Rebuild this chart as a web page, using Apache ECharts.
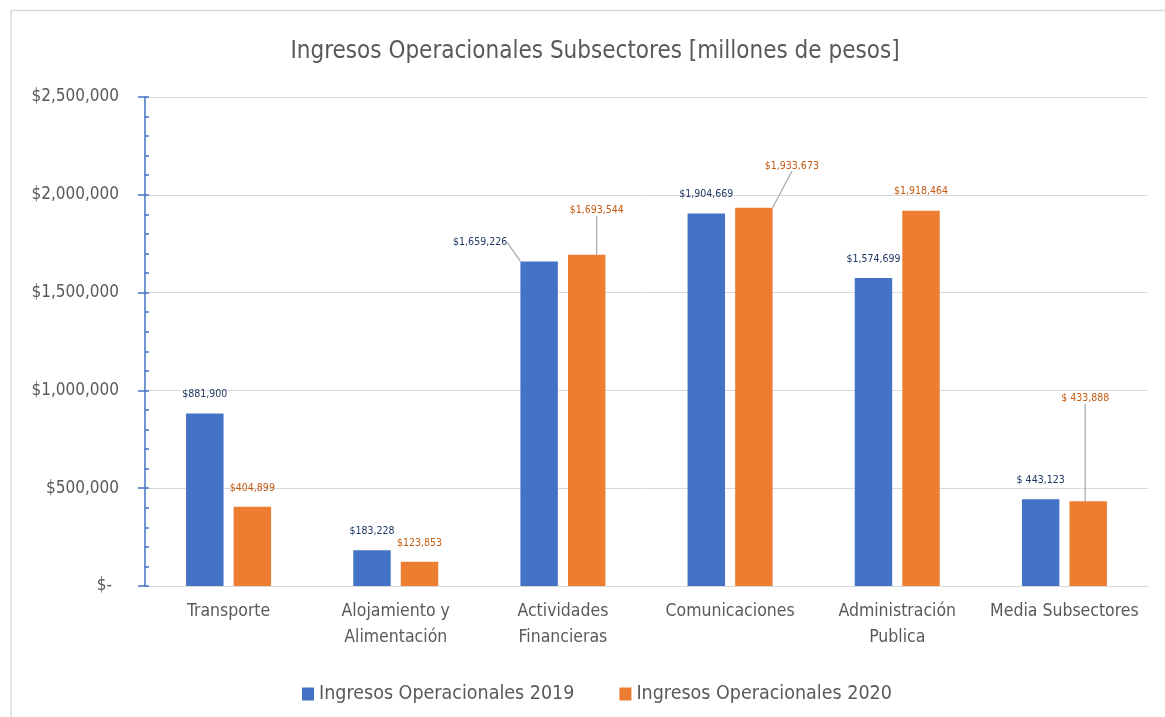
<!DOCTYPE html>
<html>
<head>
<meta charset="utf-8">
<script src="https://cdn.jsdelivr.net/npm/echarts@6/dist/echarts.min.js"></script>
<style>
html,body{margin:0;padding:0;background:#fff;}
#c{width:1165px;height:717px;}
</style>
</head>
<body>
<div id="c"></div>
<script>
const categories = ['Transporte', 'Alojamiento y\nAlimentación', 'Actividades\nFinancieras', 'Comunicaciones', 'Administración\nPublica', 'Media Subsectores'];
const values2019 = [881900, 183228, 1659226, 1904669, 1574699, 443123];
const values2020 = [404899, 123853, 1693544, 1933673, 1918464, 433888];
const seriesNames = ['Ingresos Operacionales 2019', 'Ingresos Operacionales 2020'];
const yTicks = [0, 500000, 1000000, 1500000, 2000000, 2500000];

const NARROW = "'DejaVu Sans Condensed', 'Liberation Sans', sans-serif";

// label displacement (dx, dy) for labels with leader lines
const labelMoves = [
  {2: [-59, 0]},
  {2: [10, -25], 3: [38, -23], 5: [-3, -84]}
];

function fmtMoney(v, name) {
  const sep = name === 'Media Subsectores' ? '$ ' : '$';
  return sep + v.toLocaleString('en-US');
}

function buildData(vals, s) {
  return vals.map((v, i) => ({
    value: v,
    labelLine: { show: labelMoves[s][i] !== undefined }
  }));
}

const colors = ['#4472C4', '#ED7D31'];
const labelColors = ['#203864', '#C55A11'];

const chart = echarts.init(document.getElementById('c'), null, { renderer: 'canvas' });

const option = {
  animation: false,
  backgroundColor: '#fff',
  graphic: [{
    type: 'rect',
    shape: { x: 11, y: 10.5, width: 1400, height: 1000 },
    style: { fill: 'none', stroke: '#D9D9D9', lineWidth: 1.5 },
    silent: true,
    z: -10
  }],
  title: {
    text: 'Ingresos Operacionales Subsectores [millones de pesos]',
    left: 590,
    textAlign: 'center',
    top: 35,
    textStyle: { fontFamily: NARROW, fontSize: 24, fontWeight: 'normal', color: '#595959' }
  },
  legend: {
    data: seriesNames,
    left: 297,
    top: 679,
    itemWidth: 12,
    itemHeight: 13,
    itemGap: 45,
    icon: 'rect',
    textStyle: { fontFamily: NARROW, fontSize: 19.5, color: '#595959' }
  },
  grid: { left: 145, right: 17, top: 97, bottom: 131, containLabel: false },
  xAxis: {
    type: 'category',
    data: categories,
    axisLine: { show: true, lineStyle: { color: '#D9D9D9', width: 1 } },
    axisTick: { show: false },
    axisLabel: {
      interval: 0, margin: 12, color: '#595959',
      fontFamily: NARROW, fontSize: 17.5, lineHeight: 26
    }
  },
  yAxis: [{
    type: 'value',
    min: 0, max: 2500000, interval: 500000,
    axisLine: { show: true, lineStyle: { color: '#4472C4', width: 1.5 } },
    axisTick: { show: true, inside: true, length: 4, lineStyle: { color: '#4472C4', width: 1.5 } },
    minorTick: { show: true, splitNumber: 5, length: 4, lineStyle: { color: '#4472C4', width: 1.5 } },
    splitLine: { show: true, lineStyle: { color: '#D9D9D9', width: 1 } },
    axisLabel: {
      margin: 26, color: '#595959', fontFamily: NARROW, fontSize: 17,
      formatter: v => v === 0 ? '{z|$-}' : '$' + v.toLocaleString('en-US'),
      rich: { z: { fontFamily: NARROW, fontSize: 17, color: '#595959', padding: [0, 7, 0, 0] } }
    }
  }, {
    type: 'value',
    position: 'left',
    min: 0, max: 2500000, interval: 500000,
    axisLine: { show: false },
    axisTick: { show: true, inside: false, length: 7, lineStyle: { color: '#4472C4', width: 1.5 } },
    splitLine: { show: false },
    axisLabel: { show: false }
  }],
  series: [values2019, values2020].map((vals, s) => ({
    name: seriesNames[s],
    type: 'bar',
    yAxisIndex: 0,
    data: buildData(vals, s),
    barWidth: '22.4%',
    barGap: '27%',
    itemStyle: { color: colors[s] },
    label: {
      show: true,
      position: 'top',
      distance: 13.5,
      fontFamily: NARROW,
      fontSize: 10.5,
      color: labelColors[s],
      formatter: p => fmtMoney(p.value, p.name)
    },
    labelLine: { show: false, smooth: false, lineStyle: { color: '#A6A6A6', width: 1.2 } },
    labelLayout: params => {
      const m = labelMoves[s][params.dataIndex];
      return m ? { dx: m[0], dy: m[1] } : {};
    }
  }))
};

chart.setOption(option);
</script>
</body>
</html>
